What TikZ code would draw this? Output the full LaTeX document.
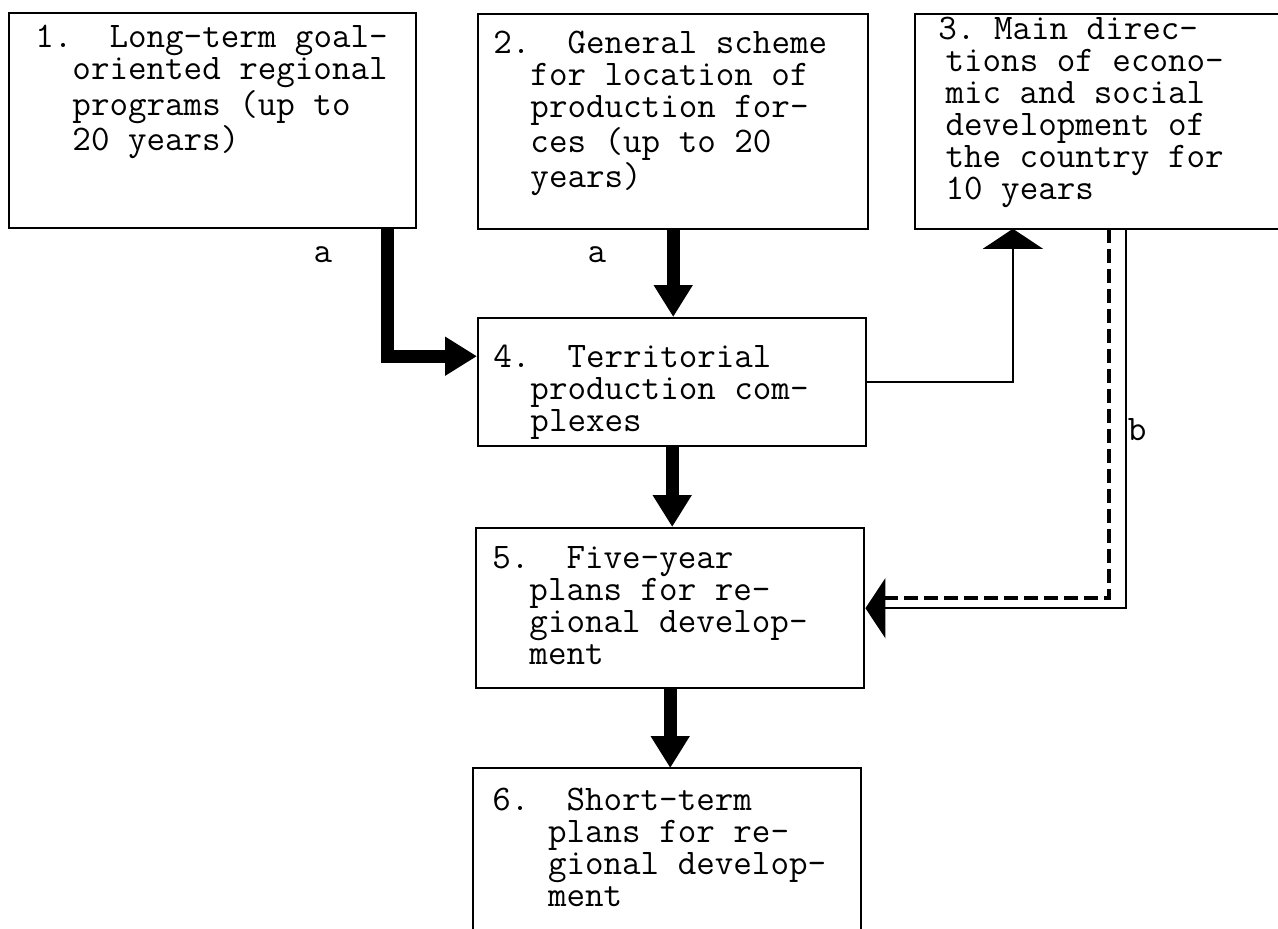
\documentclass[tikz,border=0pt]{standalone}
\usepackage{tikz}
\usetikzlibrary{arrows.meta}

\begin{document}
\begin{tikzpicture}[x=0.5pt,y=-0.5pt,
        frame/.style={rectangle,inner sep=0pt,anchor=north west},
        box/.style={frame,draw,line width=1.2pt},
        txt/.style={inner sep=0pt,anchor=north west,align=left,font=\fontsize{18}{16}\ttfamily},
        big/.style={line width=6.5pt,-{Triangle[width=18.5pt,length=16pt]}},
        small/.style={line width=1pt,-{Triangle[width=30pt,length=10pt]}}]
        \useasboundingbox (0,0) rectangle (1278,928);
        %Boxes, 3 is open on the right and 6 at the bottom.
        \node[box,minimum width=203.5pt,minimum height=107.5pt] (b1) at (8,12) {};
        \node[box,minimum width=195pt,minimum height=107.5pt] (b2) at (477,13) {};
        \node[frame,minimum width=181.5pt,minimum height=107pt] (b3) at (915,14) {};
        \node[box,minimum width=194pt,minimum height=64pt] (b4) at (477,317) {};
        \node[box,minimum width=194pt,minimum height=80pt] (b5) at (475,527) {};
        \node[frame,minimum width=193.5pt,minimum height=80pt] (b6) at (473,768) {};
        \draw[line width=1.2pt] (b3.north east) -- (b3.north west) -- (b3.south west) -- (b3.south east);
        \draw[line width=1.2pt] (b6.south west) -- (b6.north west) -- (b6.north east) -- (b6.south east);

        \node[txt] (t1) at (35,25) {1.~~Long-term goal-\\~~oriented regional\\~~programs (up to\\~~20 years)};
        \node[txt] (t2) at (493,31) {2.~~General scheme\\~~for location of\\~~production for-\\~~ces (up to 20\\~~years)};
        \node[txt] (t3) at (938,17) {3.~Main direc-\\\hspace*{0.2em}tions of econo-\\\hspace*{0.2em}mic and social\\\hspace*{0.2em}development of\\\hspace*{0.2em}the country for\\\hspace*{0.2em}10 years};
        \node[txt] (t4) at (493,345) {4.~~Territorial\\~~production com-\\~~plexes};
        \node[txt] (t5) at (492,546) {5.~~Five-year\\~~plans for re-\\~~gional develop-\\~~ment};
        \node[txt] (t6) at (492,788) {6.~~Short-term\\~~~plans for re-\\~~~gional develop-\\~~~ment};

        \draw[big] ([xshift=-15pt]b1.south east) |- ([yshift=13pt]b4.west);
        \draw[big] (b2.south) -- (b2.south |- b4.north);
        \draw[big] (b4.south) -- (b4.south |- b5.north);
        \draw[big] (b5.south) -- (b5.south |- b6.north);
        \draw[small] (b4.east) -| ([xshift=-42pt]b3.south);
        \draw[line width=2pt,dash pattern=on 7pt off 3pt] ([xshift=6pt]b3.south) |- ([xshift=10pt,yshift=5pt]b5.east);
        \draw[small] ([xshift=14.5pt]b3.south) |- (b5.east);

        \path
        (323,262) node[txt,anchor=base] (la1) {a}
        (597,262) node[txt,anchor=base] (la2) {a}
        (1137,440) node[txt,anchor=base] (lb) {b};
\end{tikzpicture}
\end{document}
